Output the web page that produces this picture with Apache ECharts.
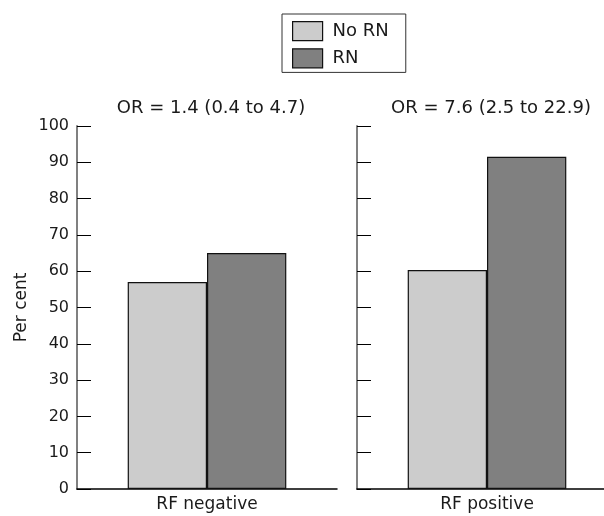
<!DOCTYPE html>
<html>
<head>
<meta charset="utf-8">
<script src="https://cdn.jsdelivr.net/npm/echarts@6/dist/echarts.min.js"></script>
<style>
html,body{margin:0;padding:0;background:#fff;overflow:hidden;width:604px;height:516px;}
#c{width:640px;height:516px;}
</style>
</head>
<body>
<div id="c"></div>
<script>
const categories = ['RF negative', 'RF positive'];
const seriesNames = ['No RN', 'RN'];
const noRN = [57, 60.3];
const rn = [65, 91.5];
const panelTitles = ['OR = 1.4 (0.4 to 4.7)', 'OR = 7.6 (2.5 to 22.9)'];
const yTicks = [0, 10, 20, 30, 40, 50, 60, 70, 80, 90, 100];

const FONT = 'DejaVu Sans';
const TXT = '#1a1a1a';
const chart = echarts.init(document.getElementById('c'), null, {renderer: 'canvas'});

const grids = [
  {left: 77, top: 126, width: 260, height: 363},
  {left: 357, top: 126, width: 260, height: 363}
];

const xAxes = categories.map((c, i) => ({
  type: 'category', gridIndex: i, data: [c],
  axisTick: {show: false},
  axisLine: {lineStyle: {color: '#000', width: 1.5}},
  axisLabel: {fontSize: 17, color: TXT, fontFamily: FONT, margin: 7}
}));

const yAxes = categories.map((c, i) => ({
  type: 'value', gridIndex: i, min: yTicks[0], max: yTicks[yTicks.length - 1], interval: 10,
  name: i === 0 ? 'Per cent' : '',
  nameLocation: 'middle', nameRotate: 90, nameGap: 47,
  nameTextStyle: {fontSize: 17, color: TXT, fontFamily: FONT},
  splitLine: {show: false},
  axisLine: {show: true, lineStyle: {color: '#808080', width: 2}},
  axisTick: {show: true, inside: true, length: 14, lineStyle: {color: '#000', width: 1}},
  axisLabel: {show: i === 0, fontSize: 16, color: TXT, fontFamily: FONT, margin: 8}
}));

const series = [];
categories.forEach((c, i) => {
  series.push({
    name: seriesNames[0], type: 'bar', xAxisIndex: i, yAxisIndex: i,
    data: [noRN[i]], barGap: '0%', barCategoryGap: '39%',
    itemStyle: {color: '#cccccc', borderColor: '#111', borderWidth: 1.2}
  });
  series.push({
    name: seriesNames[1], type: 'bar', xAxisIndex: i, yAxisIndex: i,
    data: [rn[i]], barGap: '0%', barCategoryGap: '39%',
    itemStyle: {color: '#808080', borderColor: '#111', borderWidth: 1.2}
  });
});

chart.setOption({
  animation: false,
  backgroundColor: '#fff',
  textStyle: {fontFamily: FONT},
  title: [
    {text: panelTitles[0], left: 206, top: 94, textAlign: 'center',
     textStyle: {fontSize: 18, fontWeight: 'normal', color: TXT, fontFamily: FONT}},
    {text: panelTitles[1], left: 486, top: 94, textAlign: 'center',
     textStyle: {fontSize: 18, fontWeight: 'normal', color: TXT, fontFamily: FONT}}
  ],
  legend: {
    data: seriesNames, orient: 'vertical', left: 282, top: 14,
    itemWidth: 30, itemHeight: 19, itemGap: 7, padding: [7, 17, 4, 10],
    borderColor: '#333', borderWidth: 1, icon: 'rect',
    itemStyle: {borderColor: '#111', borderWidth: 1.2},
    textStyle: {fontSize: 18, color: TXT, fontFamily: FONT, padding: [0, 0, 0, 5]},
    selectedMode: false
  },
  grid: grids,
  xAxis: xAxes,
  yAxis: yAxes,
  series: series
});
</script>
</body>
</html>
